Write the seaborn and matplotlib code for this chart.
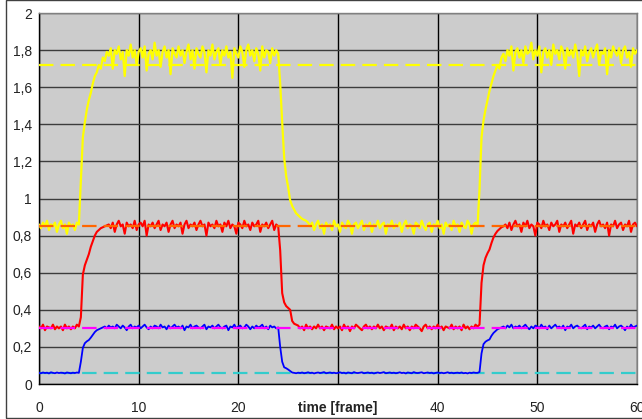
import numpy as np
import matplotlib.pyplot as plt
import seaborn as sns
from matplotlib.patches import Rectangle

# --- data (one sample every 0.2 frame) ---
time = np.round(np.arange(301) * 0.2, 1)

yellow = [
    0.86, 0.84, 0.87, 0.85, 0.88, 0.83, 0.86, 0.85, 0.87, 0.82,
    0.86, 0.88, 0.84, 0.86, 0.81, 0.87, 0.85, 0.86, 0.83, 0.87,
    0.86, 1.10, 1.33, 1.41, 1.48, 1.53, 1.57, 1.62, 1.66, 1.68,
    1.72, 1.70, 1.76, 1.74, 1.79, 1.77, 1.81, 1.70, 1.80, 1.78,
    1.82, 1.75, 1.79, 1.66, 1.80, 1.77, 1.83, 1.76, 1.80, 1.72,
    1.79, 1.81, 1.76, 1.82, 1.69, 1.78, 1.80, 1.75, 1.84, 1.77,
    1.80, 1.71, 1.79, 1.82, 1.76, 1.80, 1.67, 1.81, 1.78, 1.76,
    1.82, 1.77, 1.80, 1.73, 1.79, 1.83, 1.75, 1.80, 1.70, 1.81,
    1.78, 1.76, 1.82, 1.79, 1.68, 1.80, 1.77, 1.83, 1.75, 1.79,
    1.81, 1.72, 1.80, 1.77, 1.82, 1.76, 1.79, 1.65, 1.81, 1.78,
    1.76, 1.82, 1.79, 1.71, 1.80, 1.83, 1.77, 1.80, 1.74, 1.81,
    1.78, 1.69, 1.82, 1.76, 1.80, 1.79, 1.73, 1.81, 1.77, 1.80,
    1.78, 1.62, 1.41, 1.22, 1.12, 1.06, 0.99, 0.96, 0.94, 0.92,
    0.91, 0.90, 0.89, 0.885, 0.88, 0.87, 0.85, 0.87, 0.83, 0.86,
    0.88, 0.84, 0.86, 0.81, 0.87, 0.85, 0.86, 0.83, 0.88, 0.85,
    0.86, 0.82, 0.87, 0.85, 0.84, 0.88, 0.86, 0.81, 0.86, 0.87,
    0.84, 0.86, 0.88, 0.83, 0.86, 0.85, 0.87, 0.82, 0.86, 0.85,
    0.88, 0.84, 0.86, 0.87, 0.81, 0.86, 0.85, 0.88, 0.84, 0.86,
    0.85, 0.87, 0.82, 0.86, 0.88, 0.84, 0.86, 0.85, 0.81, 0.87,
    0.86, 0.84, 0.88, 0.85, 0.83, 0.86, 0.87, 0.82, 0.86, 0.85,
    0.88, 0.84, 0.86, 0.81, 0.87, 0.85, 0.86, 0.83, 0.88, 0.85,
    0.86, 0.82, 0.87, 0.85, 0.84, 0.88, 0.86, 0.81, 0.86, 0.87,
    0.85, 1.05, 1.33, 1.42, 1.48, 1.53, 1.58, 1.62, 1.66, 1.69,
    1.72, 1.70, 1.76, 1.78, 1.74, 1.80, 1.77, 1.82, 1.69, 1.79,
    1.81, 1.76, 1.80, 1.73, 1.82, 1.78, 1.79, 1.84, 1.75, 1.80,
    1.77, 1.82, 1.68, 1.79, 1.81, 1.76, 1.80, 1.72, 1.83, 1.78,
    1.80, 1.75, 1.82, 1.79, 1.70, 1.81, 1.77, 1.80, 1.76, 1.83,
    1.78, 1.66, 1.80, 1.77, 1.82, 1.74, 1.79, 1.81, 1.76, 1.80,
    1.83, 1.72, 1.79, 1.78, 1.81, 1.67, 1.80, 1.76, 1.82, 1.79,
    1.77, 1.81, 1.73, 1.80, 1.82, 1.76, 1.79, 1.71, 1.81, 1.78,
    1.80,
]

red = [
    0.31, 0.30, 0.32, 0.29, 0.31, 0.305, 0.30, 0.32, 0.295, 0.31,
    0.30, 0.31, 0.29, 0.32, 0.30, 0.31, 0.295, 0.31, 0.30, 0.32,
    0.31, 0.36, 0.59, 0.64, 0.67, 0.70, 0.74, 0.77, 0.80, 0.82,
    0.83, 0.84, 0.845, 0.85, 0.855, 0.86, 0.84, 0.87, 0.82, 0.86,
    0.88, 0.85, 0.86, 0.81, 0.87, 0.85, 0.86, 0.84, 0.88, 0.83,
    0.86, 0.87, 0.85, 0.88, 0.80, 0.86, 0.85, 0.87, 0.84, 0.86,
    0.88, 0.83, 0.86, 0.85, 0.87, 0.82, 0.86, 0.88, 0.84, 0.86,
    0.85, 0.87, 0.81, 0.86, 0.88, 0.84, 0.86, 0.85, 0.87, 0.83,
    0.86, 0.88, 0.85, 0.86, 0.80, 0.87, 0.85, 0.86, 0.84, 0.88,
    0.85, 0.86, 0.82, 0.87, 0.85, 0.88, 0.84, 0.86, 0.85, 0.81,
    0.87, 0.86, 0.84, 0.88, 0.85, 0.86, 0.83, 0.87, 0.85, 0.86,
    0.88, 0.82, 0.86, 0.85, 0.87, 0.84, 0.86, 0.88, 0.83, 0.86,
    0.85, 0.72, 0.49, 0.44, 0.42, 0.41, 0.40, 0.34, 0.325, 0.32,
    0.315, 0.30, 0.31, 0.29, 0.32, 0.30, 0.31, 0.295, 0.31, 0.30,
    0.32, 0.30, 0.31, 0.29, 0.31, 0.305, 0.30, 0.32, 0.295, 0.31,
    0.30, 0.31, 0.29, 0.32, 0.30, 0.31, 0.285, 0.31, 0.30, 0.32,
    0.31, 0.30, 0.29, 0.31, 0.32, 0.30, 0.31, 0.295, 0.31, 0.30,
    0.32, 0.30, 0.31, 0.29, 0.31, 0.305, 0.30, 0.32, 0.29, 0.31,
    0.30, 0.31, 0.295, 0.32, 0.30, 0.31, 0.29, 0.31, 0.30, 0.32,
    0.31, 0.30, 0.285, 0.31, 0.32, 0.30, 0.31, 0.295, 0.31, 0.30,
    0.32, 0.30, 0.31, 0.29, 0.31, 0.305, 0.30, 0.32, 0.295, 0.31,
    0.30, 0.31, 0.29, 0.32, 0.30, 0.31, 0.295, 0.31, 0.30, 0.32,
    0.31, 0.32, 0.545, 0.64, 0.68, 0.705, 0.725, 0.76, 0.79, 0.81,
    0.825, 0.835, 0.845, 0.85, 0.86, 0.84, 0.87, 0.83, 0.86, 0.88,
    0.85, 0.86, 0.82, 0.87, 0.85, 0.88, 0.84, 0.86, 0.85, 0.80,
    0.87, 0.86, 0.84, 0.88, 0.85, 0.86, 0.83, 0.87, 0.85, 0.86,
    0.88, 0.82, 0.86, 0.85, 0.87, 0.84, 0.86, 0.88, 0.81, 0.86,
    0.85, 0.87, 0.84, 0.86, 0.88, 0.83, 0.86, 0.85, 0.87, 0.82,
    0.86, 0.88, 0.85, 0.86, 0.84, 0.87, 0.80, 0.86, 0.85, 0.88,
    0.84, 0.86, 0.87, 0.83, 0.86, 0.85, 0.88, 0.82, 0.86, 0.87,
    0.85,
]

blue = [
    0.060, 0.058, 0.062, 0.059, 0.061, 0.057, 0.063, 0.060, 0.058, 0.062,
    0.059, 0.061, 0.060, 0.057, 0.062, 0.060, 0.058, 0.061, 0.059, 0.062,
    0.060, 0.120, 0.195, 0.220, 0.230, 0.237, 0.250, 0.265, 0.280, 0.290,
    0.295, 0.300, 0.305, 0.310, 0.300, 0.315, 0.305, 0.310, 0.300, 0.320,
    0.310, 0.300, 0.315, 0.305, 0.290, 0.310, 0.320, 0.300, 0.310, 0.305,
    0.315, 0.300, 0.310, 0.320, 0.305, 0.295, 0.310, 0.300, 0.315, 0.310,
    0.300, 0.320, 0.305, 0.310, 0.295, 0.315, 0.300, 0.310, 0.320, 0.305,
    0.310, 0.300, 0.315, 0.290, 0.310, 0.305, 0.320, 0.300, 0.310, 0.315,
    0.305, 0.300, 0.310, 0.320, 0.295, 0.310, 0.305, 0.315, 0.300, 0.310,
    0.320, 0.305, 0.300, 0.310, 0.315, 0.290, 0.310, 0.305, 0.320, 0.300,
    0.310, 0.315, 0.300, 0.305, 0.320, 0.310, 0.295, 0.310, 0.300, 0.315,
    0.305, 0.310, 0.320, 0.300, 0.310, 0.295, 0.315, 0.305, 0.310, 0.300,
    0.305, 0.200, 0.120, 0.090, 0.085, 0.078, 0.070, 0.062, 0.060, 0.058,
    0.061, 0.059, 0.062, 0.058, 0.060, 0.063, 0.059, 0.061, 0.057, 0.060,
    0.062, 0.059, 0.061, 0.064, 0.058, 0.060, 0.062, 0.059, 0.061, 0.058,
    0.060, 0.063, 0.059, 0.061, 0.057, 0.062, 0.060, 0.058, 0.064, 0.060,
    0.059, 0.061, 0.063, 0.058, 0.060, 0.062, 0.059, 0.061, 0.057, 0.060,
    0.062, 0.059, 0.061, 0.064, 0.058, 0.060, 0.062, 0.059, 0.061, 0.058,
    0.060, 0.063, 0.059, 0.061, 0.057, 0.062, 0.060, 0.058, 0.064, 0.060,
    0.059, 0.061, 0.063, 0.058, 0.060, 0.062, 0.059, 0.061, 0.057, 0.060,
    0.062, 0.059, 0.061, 0.058, 0.060, 0.063, 0.059, 0.061, 0.058, 0.060,
    0.061, 0.059, 0.062, 0.058, 0.060, 0.057, 0.061, 0.059, 0.062, 0.060,
    0.060, 0.065, 0.165, 0.215, 0.228, 0.235, 0.240, 0.260, 0.275, 0.285,
    0.295, 0.300, 0.305, 0.310, 0.300, 0.315, 0.305, 0.320, 0.300, 0.310,
    0.305, 0.315, 0.300, 0.310, 0.320, 0.305, 0.295, 0.310, 0.300, 0.315,
    0.310, 0.300, 0.320, 0.305, 0.310, 0.295, 0.315, 0.300, 0.310, 0.320,
    0.305, 0.310, 0.300, 0.315, 0.290, 0.310, 0.305, 0.320, 0.300, 0.310,
    0.315, 0.305, 0.300, 0.310, 0.320, 0.295, 0.310, 0.305, 0.315, 0.300,
    0.310, 0.320, 0.305, 0.300, 0.310, 0.315, 0.295, 0.310, 0.305, 0.320,
    0.300, 0.310, 0.315, 0.305, 0.290, 0.310, 0.300, 0.320, 0.305, 0.310,
    0.315,
]

# reference levels (dashed lines)
ref_levels = [1.72, 0.852, 0.303, 0.058]
ref_colors = ['#FFFF00', '#FF6600', '#FF00FF', '#33CCCC']

x_ticks = [0, 10, 20, 30, 40, 50, 60]
x_labels = ['0', '10', '20', 'time [frame]', '40', '50', '60']
y_ticks = [0, 0.2, 0.4, 0.6, 0.8, 1.0, 1.2, 1.4, 1.6, 1.8, 2.0]
y_labels = ['0', '0,2', '0,4', '0,6', '0,8', '1', '1,2', '1,4', '1,6', '1,8', '2']

sns.set_style('white')
plt.rcParams['font.family'] = ['Liberation Sans', 'DejaVu Sans']
plt.rcParams['font.size'] = 10

fig = plt.figure(figsize=(6.42, 4.19), dpi=100)
fig.patch.set_facecolor('white')
ax = fig.add_axes([39 / 642, 35 / 419, 598 / 642, 371 / 419])
ax.set_facecolor('#CCCCCC')

# noisy signals
sns.lineplot(x=time, y=yellow, color='#FFFF00', linewidth=1.6, ax=ax, zorder=3)
sns.lineplot(x=time, y=red, color='#FF0000', linewidth=1.5, ax=ax, zorder=3)
sns.lineplot(x=time, y=blue, color='#0000FF', linewidth=1.3, ax=ax, zorder=4)

# dashed reference lines
for lvl, col in zip(ref_levels, ref_colors):
    z = 3.5 if col == '#33CCCC' else 5
    ax.axhline(lvl, color=col, linewidth=1.6, dashes=(6.5, 3.2), zorder=z)

ax.set_xlim(0, 60)
ax.set_ylim(0, 2)
ax.set_xticks(x_ticks)
ax.set_xticklabels(x_labels)
ax.set_yticks(y_ticks)
ax.set_yticklabels(y_labels)
ax.get_xticklabels()[3].set_fontweight('bold')

ax.set_axisbelow(True)
ax.yaxis.grid(True, color='#3C3C3C', linewidth=1.0)
ax.xaxis.grid(True, color='black', linewidth=1.0)

ax.tick_params(axis='both', direction='out', length=3, width=1, color='black',
               labelcolor='#222222', labelsize=10)
ax.tick_params(axis='x', pad=9)
ax.tick_params(axis='y', pad=2)

for side in ['left', 'bottom']:
    ax.spines[side].set_color('black')
    ax.spines[side].set_linewidth(1.0)
for side in ['top', 'right']:
    ax.spines[side].set_color('#808080')
    ax.spines[side].set_linewidth(1.0)
    ax.spines[side].set_visible(True)

ax.set_xlabel('')
ax.set_ylabel('')

# chart area frame
fig.patches.append(Rectangle((6 / 642, 1.5 / 419), 1.0, 417 / 419,
                             transform=fig.transFigure, fill=False,
                             edgecolor='#404040', linewidth=1.0))

fig.savefig('out.png', dpi=100)
